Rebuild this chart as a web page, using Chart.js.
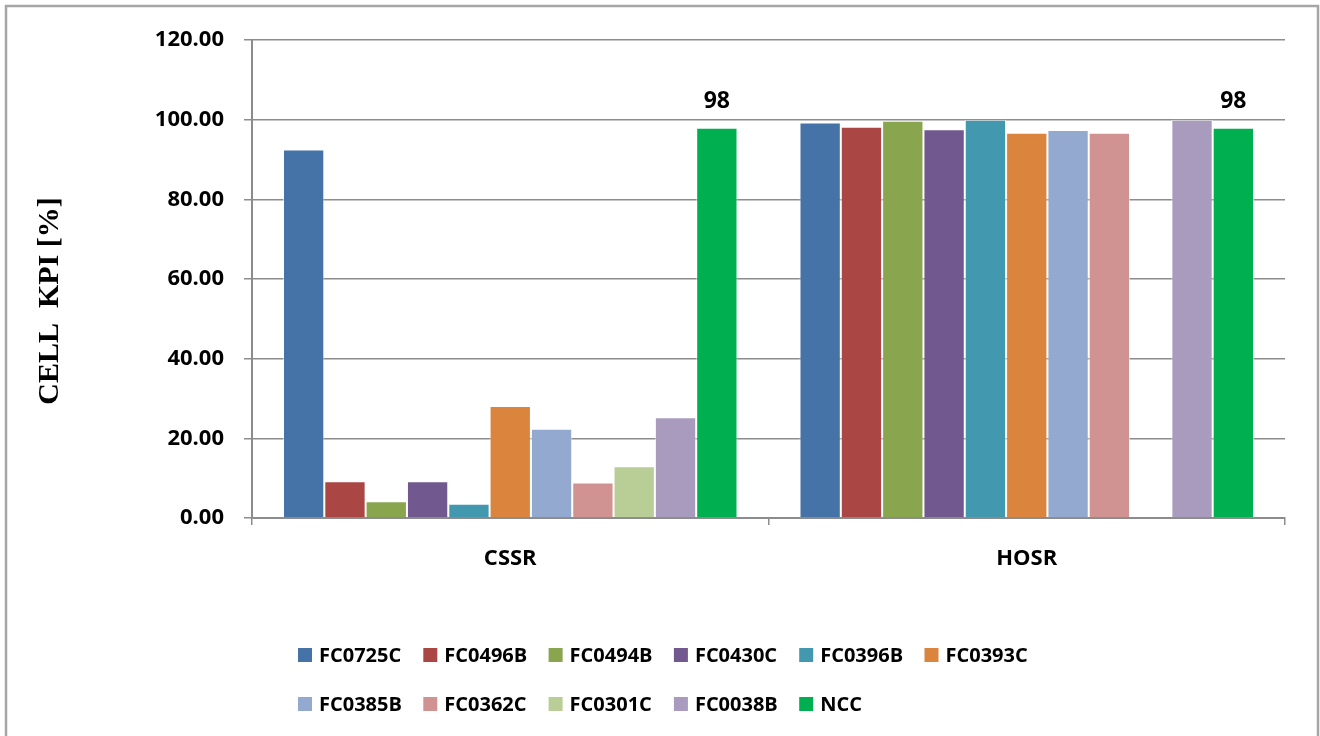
<!DOCTYPE html>
<html>
<head>
<meta charset="utf-8">
<title>Cell KPI</title>
<script src="https://cdn.jsdelivr.net/npm/chart.js@4/dist/chart.umd.min.js"></script>
<style>
  html, body { margin: 0; padding: 0; background: #ffffff; }
  #wrap { width: 1320px; height: 736px; position: relative; }
</style>
</head>
<body>
<div id="wrap"><canvas id="kpi" width="1320" height="736"></canvas></div>
<script>
// KPI categories
const categories = ['CSSR', 'HOSR'];

// Cell names (one series per cell)
const cells = ['FC0725C', 'FC0496B', 'FC0494B', 'FC0430C', 'FC0396B', 'FC0393C',
               'FC0385B', 'FC0362C', 'FC0301C', 'FC0038B', 'NCC'];

// Series colours
const cellColors = ['#4572A7', '#AA4643', '#89A54E', '#71588F', '#4198AF', '#DB843D',
                    '#93A9CF', '#D19392', '#B9CD96', '#A99BBD', '#00B050'];

// Values per cell: [CSSR, HOSR]
const FC0725C = [92.5, 99.3];
const FC0496B = [9.2, 98.2];
const FC0494B = [4.2, 99.7];
const FC0430C = [9.2, 97.6];
const FC0396B = [3.6, 100.0];
const FC0393C = [28.1, 96.7];
const FC0385B = [22.4, 97.4];
const FC0362C = [8.9, 96.7];
const FC0301C = [13.0, null];
const FC0038B = [25.3, 100.0];
const NCC     = [98, 98];

const seriesValues = [FC0725C, FC0496B, FC0494B, FC0430C, FC0396B, FC0393C,
                      FC0385B, FC0362C, FC0301C, FC0038B, NCC];

// Y axis ticks
const yTicks = [0, 20, 40, 60, 80, 100, 120];

// Y axis title
const yTitle = 'CELL  KPI [%]';

// Series whose values are printed above the bars
const labelledSeries = ['NCC'];

const datasets = cells.map((name, i) => ({
  label: name,
  data: seriesValues[i],
  backgroundColor: cellColors[i],
  borderColor: 'rgba(255,255,255,0.55)',
  borderWidth: 1,
  categoryPercentage: 0.88,
  barPercentage: 1.0
}));

const gridGray = '#8c8c8c';
const labelFont = "'Open Sans', 'Noto Sans', sans-serif";

// Outer frame around the whole chart
const framePlugin = {
  id: 'frame',
  beforeDraw(chart) {
    const ctx = chart.ctx;
    ctx.save();
    ctx.fillStyle = '#ffffff';
    ctx.fillRect(0, 0, chart.width, chart.height);
    ctx.strokeStyle = '#a6a6a6';
    ctx.lineWidth = 2.5;
    ctx.beginPath();
    ctx.moveTo(6, chart.height + 5);
    ctx.lineTo(6, 6);
    ctx.lineTo(1318, 6);
    ctx.lineTo(1318, chart.height + 5);
    ctx.stroke();
    ctx.restore();
  }
};

// Rotated y axis title, placed in the left margin
const yTitlePlugin = {
  id: 'yTitle',
  afterDraw(chart) {
    const ctx = chart.ctx;
    ctx.save();
    ctx.translate(50, 301);
    ctx.rotate(-Math.PI / 2);
    ctx.font = "bold 30px 'Liberation Serif', 'DejaVu Serif', serif";
    ctx.fillStyle = '#000000';
    ctx.textAlign = 'center';
    ctx.textBaseline = 'middle';
    ctx.fillText(yTitle, 0, 0);
    ctx.restore();
  }
};

// Value labels over selected series
const valueLabelPlugin = {
  id: 'valueLabels',
  afterDatasetsDraw(chart) {
    const ctx = chart.ctx;
    ctx.save();
    ctx.font = "bold 23px " + labelFont;
    ctx.fillStyle = '#000000';
    ctx.textAlign = 'center';
    ctx.textBaseline = 'middle';
    chart.data.datasets.forEach((ds, di) => {
      if (!labelledSeries.includes(ds.label)) return;
      const meta = chart.getDatasetMeta(di);
      meta.data.forEach((bar, j) => {
        const v = ds.data[j];
        if (v === null || v === undefined) return;
        ctx.fillText(String(Math.round(v)), bar.x, bar.y - 26);
      });
    });
    ctx.restore();
  }
};

// Two-row legend with fixed column width, left-aligned rows
const legendPlugin = {
  id: 'gridLegend',
  afterDraw(chart) {
    const ctx = chart.ctx;
    const startX = 298, colW = 125.3, perRow = 6;
    const rowY = [655, 704];
    ctx.save();
    ctx.font = "bold 20px " + labelFont;
    ctx.textBaseline = 'middle';
    ctx.textAlign = 'left';
    chart.data.datasets.forEach((ds, i) => {
      const row = Math.floor(i / perRow);
      const col = i % perRow;
      const x = startX + col * colW;
      const y = rowY[row];
      ctx.fillStyle = ds.backgroundColor;
      ctx.fillRect(x, y - 7, 14, 14);
      ctx.fillStyle = '#000000';
      ctx.fillText(ds.label, x + 21, y + 1);
    });
    ctx.restore();
  }
};

new Chart(document.getElementById('kpi'), {
  type: 'bar',
  data: { labels: categories, datasets },
  options: {
    responsive: false,
    animation: false,
    devicePixelRatio: 1,
    layout: { padding: { left: 20, right: 35, top: 40, bottom: 0 } },
    plugins: {
      legend: { display: false },
      tooltip: { enabled: false }
    },
    scales: {
      x: {
        offset: true,
        grid: {
          offset: true,
          drawOnChartArea: false,
          drawTicks: true,
          tickLength: 7,
          color: gridGray,
          lineWidth: 1.5
        },
        border: { color: gridGray, width: 2 },
        ticks: {
          color: '#000000',
          font: { family: labelFont, size: 22, weight: 'bold' },
          padding: 21
        },
        afterFit(scale) { scale.height = 218; }
      },
      y: {
        min: 0,
        max: 120,
        afterBuildTicks(scale) { scale.ticks = yTicks.map(v => ({ value: v })); },
        grid: {
          color: gridGray,
          lineWidth: 1.5,
          tickLength: 8,
          drawTicks: true
        },
        border: { color: gridGray, width: 2 },
        ticks: {
          color: '#000000',
          font: { family: labelFont, size: 22, weight: 'bold' },
          padding: 20,
          callback: (v) => Number(v).toFixed(2)
        },
        afterFit(scale) { scale.width = 232; }
      }
    }
  },
  plugins: [framePlugin, yTitlePlugin, valueLabelPlugin, legendPlugin]
});
</script>
</body>
</html>
